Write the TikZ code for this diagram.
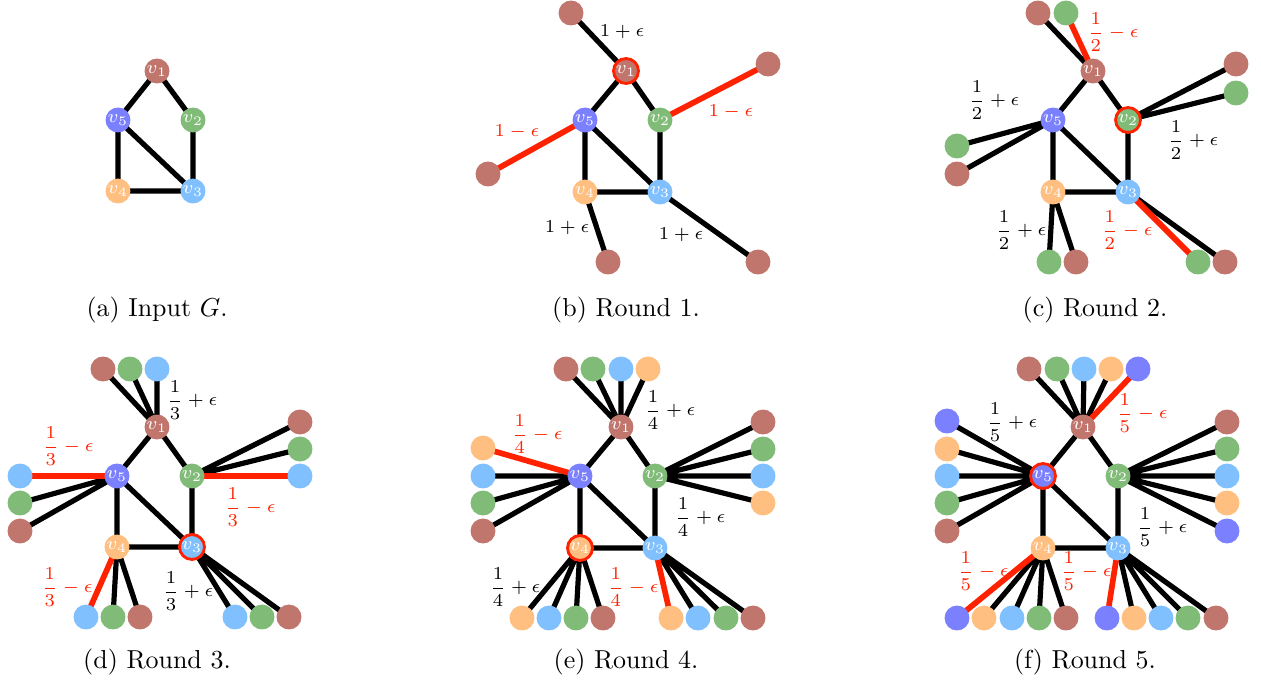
\documentclass[tikz,border=0pt]{standalone}
\usepackage{amsmath}
\usetikzlibrary{backgrounds}
\definecolor{cbrown}{HTML}{C0756D}
\definecolor{cgreen}{HTML}{80BB78}
\definecolor{cblue}{HTML}{80C0FF}
\definecolor{corange}{HTML}{FFBF80}
\definecolor{cpurple}{HTML}{7B80FF}
\definecolor{cred}{HTML}{FF2200}
\tikzset{
  vtx/.style={circle,minimum size=9.6pt,inner sep=0pt,text=white,font=\fontsize{6.8}{8}\selectfont},
  leaf/.style={circle,minimum size=9.6pt,inner sep=0pt},
  ring/.style={draw=cred,line width=1.1pt},
  edge/.style={line width=2pt,draw=black},
  redge/.style={line width=2.2pt,draw=cred},
  lab/.style={font=\fontsize{7}{8.5}\selectfont,inner sep=0pt},
  rlab/.style={lab,text=cred},
  capt/.style={font=\normalsize,inner sep=0pt}
}
\begin{document}
\begin{tikzpicture}[x=0.385pt,y=-0.385pt]
\useasboundingbox (0,0) rectangle (1261,689);
%% ---------- (a)
\node[vtx,fill=cbrown] (a1) at (157,71) {$v_1$};
\node[vtx,fill=cpurple] (a5) at (118,120) {$v_5$};
\node[vtx,fill=cgreen] (a2) at (193,120) {$v_2$};
\node[vtx,fill=corange] (a4) at (118,191) {$v_4$};
\node[vtx,fill=cblue] (a3) at (193,191) {$v_3$};
\begin{pgfonlayer}{background}
\draw[edge] (a1.center)--(a5.center) (a1.center)--(a2.center) (a5.center)--(a4.center)
  (a5.center)--(a3.center) (a2.center)--(a3.center) (a4.center)--(a3.center);
\end{pgfonlayer}
\node[capt] (capa) at (157,310) {(a) Input $G$.};
%% ---------- (b)
\node[vtx,fill=cbrown,ring] (b1) at (626,71) {$v_1$};
\node[vtx,fill=cpurple] (b5) at (585,120) {$v_5$};
\node[vtx,fill=cgreen] (b2) at (660,120) {$v_2$};
\node[vtx,fill=corange] (b4) at (585,192) {$v_4$};
\node[vtx,fill=cblue] (b3) at (660,192) {$v_3$};
\node[leaf,fill=cbrown] (bl1) at (571,13) {};
\node[leaf,fill=cbrown] (bl2) at (768,64) {};
\node[leaf,fill=cbrown] (bl5) at (488,174) {};
\node[leaf,fill=cbrown] (bl4) at (608,262) {};
\node[leaf,fill=cbrown] (bl3) at (758,262) {};
\begin{pgfonlayer}{background}
\draw[edge] (b1.center)--(b5.center) (b1.center)--(b2.center) (b5.center)--(b4.center)
  (b5.center)--(b3.center) (b2.center)--(b3.center) (b4.center)--(b3.center);
\draw[edge] (b1.center)--(bl1.center) (b4.center)--(bl4.center) (b3.center)--(bl3.center);
\draw[redge] (b2.center)--(bl2.center) (b5.center)--(bl5.center);
\end{pgfonlayer}
\node[lab] (bt1) at (622,32) {$1+\epsilon$};
\node[rlab] (bt2) at (731,112) {$1-\epsilon$};
\node[rlab] (bt5) at (517,132) {$1-\epsilon$};
\node[lab] (bt4) at (567,228) {$1+\epsilon$};
\node[lab] (bt3) at (681,235) {$1+\epsilon$};
\node[capt] (capb) at (626,310) {(b) Round 1.};
%% ---------- (c)
\node[vtx,fill=cbrown] (c1) at (1093,71) {$v_1$};
\node[vtx,fill=cpurple] (c5) at (1053,120) {$v_5$};
\node[vtx,fill=cgreen,ring] (c2) at (1128,120) {$v_2$};
\node[vtx,fill=corange] (c4) at (1053,192) {$v_4$};
\node[vtx,fill=cblue] (c3) at (1128,192) {$v_3$};
\node[leaf,fill=cbrown] (cl1a) at (1038,13) {};
\node[leaf,fill=cgreen] (cl1b) at (1066,13) {};
\node[leaf,fill=cbrown] (cl2a) at (1236,64) {};
\node[leaf,fill=cgreen] (cl2b) at (1236,93) {};
\node[leaf,fill=cgreen] (cl5a) at (957,146) {};
\node[leaf,fill=cbrown] (cl5b) at (957,174) {};
\node[leaf,fill=cgreen] (cl4a) at (1049,262) {};
\node[leaf,fill=cbrown] (cl4b) at (1076,262) {};
\node[leaf,fill=cgreen] (cl3a) at (1198,262) {};
\node[leaf,fill=cbrown] (cl3b) at (1225,262) {};
\begin{pgfonlayer}{background}
\draw[edge] (c1.center)--(c5.center) (c1.center)--(c2.center) (c5.center)--(c4.center)
  (c5.center)--(c3.center) (c2.center)--(c3.center) (c4.center)--(c3.center);
\draw[edge] (c1.center)--(cl1a.center) (c2.center)--(cl2a.center) (c2.center)--(cl2b.center)
  (c5.center)--(cl5a.center) (c5.center)--(cl5b.center) (c4.center)--(cl4a.center)
  (c4.center)--(cl4b.center) (c3.center)--(cl3b.center);
\draw[redge] (c1.center)--(cl1b.center) (c3.center)--(cl3a.center);
\end{pgfonlayer}
\node[rlab] (ct1) at (1113,32) {$\dfrac{1}{2}-\epsilon$};
\node[lab] (ct5) at (994,100) {$\dfrac{1}{2}+\epsilon$};
\node[lab] (ct2) at (1193,140) {$\dfrac{1}{2}+\epsilon$};
\node[lab] (ct4) at (1021,230) {$\dfrac{1}{2}+\epsilon$};
\node[rlab] (ct3) at (1127,230) {$\dfrac{1}{2}-\epsilon$};
\node[capt] (capc) at (1095,310) {(c) Round 2.};
%% ---------- (d)
\node[vtx,fill=cbrown] (d1) at (157,427) {$v_1$};
\node[vtx,fill=cpurple] (d5) at (117,476) {$v_5$};
\node[vtx,fill=cgreen] (d2) at (192,476) {$v_2$};
\node[vtx,fill=corange] (d4) at (117,547) {$v_4$};
\node[vtx,fill=cblue,ring] (d3) at (192,547) {$v_3$};
\node[leaf,fill=cbrown] (dl1a) at (103,369) {};
\node[leaf,fill=cgreen] (dl1b) at (130,369) {};
\node[leaf,fill=cblue] (dl1c) at (157,369) {};
\node[leaf,fill=cbrown] (dl2a) at (300,422) {};
\node[leaf,fill=cgreen] (dl2b) at (300,449) {};
\node[leaf,fill=cblue] (dl2c) at (300,476) {};
\node[leaf,fill=cblue] (dl5a) at (20,476) {};
\node[leaf,fill=cgreen] (dl5b) at (20,503) {};
\node[leaf,fill=cbrown] (dl5c) at (20,531) {};
\node[leaf,fill=cblue] (dl4a) at (86,617) {};
\node[leaf,fill=cgreen] (dl4b) at (113,617) {};
\node[leaf,fill=cbrown] (dl4c) at (140,617) {};
\node[leaf,fill=cblue] (dl3a) at (235,617) {};
\node[leaf,fill=cgreen] (dl3b) at (262,617) {};
\node[leaf,fill=cbrown] (dl3c) at (289,617) {};
\begin{pgfonlayer}{background}
\draw[edge] (d1.center)--(d5.center) (d1.center)--(d2.center) (d5.center)--(d4.center)
  (d5.center)--(d3.center) (d2.center)--(d3.center) (d4.center)--(d3.center);
\draw[edge] (d1.center)--(dl1a.center) (d1.center)--(dl1b.center) (d1.center)--(dl1c.center)
  (d2.center)--(dl2a.center) (d2.center)--(dl2b.center)
  (d5.center)--(dl5b.center) (d5.center)--(dl5c.center)
  (d4.center)--(dl4b.center) (d4.center)--(dl4c.center)
  (d3.center)--(dl3a.center) (d3.center)--(dl3b.center) (d3.center)--(dl3c.center);
\draw[redge] (d2.center)--(dl2c.center) (d5.center)--(dl5a.center) (d4.center)--(dl4a.center);
\end{pgfonlayer}
\node[lab] (dt1) at (192,400) {$\dfrac{1}{3}+\epsilon$};
\node[rlab] (dt5) at (68,446) {$\dfrac{1}{3}-\epsilon$};
\node[rlab] (dt2) at (250,507) {$\dfrac{1}{3}-\epsilon$};
\node[rlab] (dt4) at (67,587) {$\dfrac{1}{3}-\epsilon$};
\node[lab] (dt3) at (188,591) {$\dfrac{1}{3}+\epsilon$};
\node[capt] (capd) at (157,662) {(d) Round 3.};
%% ---------- (e)
\node[vtx,fill=cbrown] (e1) at (621,427) {$v_1$};
\node[vtx,fill=cpurple] (e5) at (580,476) {$v_5$};
\node[vtx,fill=cgreen] (e2) at (655,476) {$v_2$};
\node[vtx,fill=corange,ring] (e4) at (580,548) {$v_4$};
\node[vtx,fill=cblue] (e3) at (655,548) {$v_3$};
\node[leaf,fill=cbrown] (el1a) at (566,369) {};
\node[leaf,fill=cgreen] (el1b) at (593,369) {};
\node[leaf,fill=cblue] (el1c) at (621,369) {};
\node[leaf,fill=corange] (el1d) at (648,369) {};
\node[leaf,fill=cbrown] (el2a) at (763,422) {};
\node[leaf,fill=cgreen] (el2b) at (763,449) {};
\node[leaf,fill=cblue] (el2c) at (763,476) {};
\node[leaf,fill=corange] (el2d) at (763,503) {};
\node[leaf,fill=corange] (el5a) at (483,448) {};
\node[leaf,fill=cblue] (el5b) at (483,476) {};
\node[leaf,fill=cgreen] (el5c) at (483,503) {};
\node[leaf,fill=cbrown] (el5d) at (483,531) {};
\node[leaf,fill=corange] (el4a) at (522,618) {};
\node[leaf,fill=cblue] (el4b) at (549,618) {};
\node[leaf,fill=cgreen] (el4c) at (576,618) {};
\node[leaf,fill=cbrown] (el4d) at (603,618) {};
\node[leaf,fill=corange] (el3a) at (671,618) {};
\node[leaf,fill=cblue] (el3b) at (698,618) {};
\node[leaf,fill=cgreen] (el3c) at (726,618) {};
\node[leaf,fill=cbrown] (el3d) at (753,618) {};
\begin{pgfonlayer}{background}
\draw[edge] (e1.center)--(e5.center) (e1.center)--(e2.center) (e5.center)--(e4.center)
  (e5.center)--(e3.center) (e2.center)--(e3.center) (e4.center)--(e3.center);
\draw[edge] (e1.center)--(el1a.center) (e1.center)--(el1b.center) (e1.center)--(el1c.center) (e1.center)--(el1d.center)
  (e2.center)--(el2a.center) (e2.center)--(el2b.center) (e2.center)--(el2c.center) (e2.center)--(el2d.center)
  (e5.center)--(el5b.center) (e5.center)--(el5c.center) (e5.center)--(el5d.center)
  (e4.center)--(el4a.center) (e4.center)--(el4b.center) (e4.center)--(el4c.center) (e4.center)--(el4d.center)
  (e3.center)--(el3b.center) (e3.center)--(el3c.center) (e3.center)--(el3d.center);
\draw[redge] (e5.center)--(el5a.center) (e3.center)--(el3a.center);
\end{pgfonlayer}
\node[lab] (et1) at (670,410) {$\dfrac{1}{4}+\epsilon$};
\node[rlab] (et5) at (537,434) {$\dfrac{1}{4}-\epsilon$};
\node[lab] (et2) at (700,517) {$\dfrac{1}{4}+\epsilon$};
\node[lab] (et4) at (515,587) {$\dfrac{1}{4}+\epsilon$};
\node[rlab] (et3) at (633,587) {$\dfrac{1}{4}-\epsilon$};
\node[capt] (cape) at (626,662) {(e) Round 4.};
%% ---------- (f)
\node[vtx,fill=cbrown] (f1) at (1083,427) {$v_1$};
\node[vtx,fill=cpurple,ring] (f5) at (1043,476) {$v_5$};
\node[vtx,fill=cgreen] (f2) at (1118,476) {$v_2$};
\node[vtx,fill=corange] (f4) at (1043,548) {$v_4$};
\node[vtx,fill=cblue] (f3) at (1118,548) {$v_3$};
\node[leaf,fill=cbrown] (fl1a) at (1029,369) {};
\node[leaf,fill=cgreen] (fl1b) at (1057,369) {};
\node[leaf,fill=cblue] (fl1c) at (1084,369) {};
\node[leaf,fill=corange] (fl1d) at (1111,369) {};
\node[leaf,fill=cpurple] (fl1e) at (1138,369) {};
\node[leaf,fill=cbrown] (fl2a) at (1227,422) {};
\node[leaf,fill=cgreen] (fl2b) at (1227,449) {};
\node[leaf,fill=cblue] (fl2c) at (1227,476) {};
\node[leaf,fill=corange] (fl2d) at (1227,503) {};
\node[leaf,fill=cpurple] (fl2e) at (1227,531) {};
\node[leaf,fill=cpurple] (fl5a) at (947,421) {};
\node[leaf,fill=corange] (fl5b) at (947,449) {};
\node[leaf,fill=cblue] (fl5c) at (947,476) {};
\node[leaf,fill=cgreen] (fl5d) at (947,503) {};
\node[leaf,fill=cbrown] (fl5e) at (947,531) {};
\node[leaf,fill=cpurple] (fl4a) at (957,618) {};
\node[leaf,fill=corange] (fl4b) at (984,618) {};
\node[leaf,fill=cblue] (fl4c) at (1012,618) {};
\node[leaf,fill=cgreen] (fl4d) at (1039,618) {};
\node[leaf,fill=cbrown] (fl4e) at (1066,618) {};
\node[leaf,fill=cpurple] (fl3a) at (1107,618) {};
\node[leaf,fill=corange] (fl3b) at (1134,618) {};
\node[leaf,fill=cblue] (fl3c) at (1161,618) {};
\node[leaf,fill=cgreen] (fl3d) at (1188,618) {};
\node[leaf,fill=cbrown] (fl3e) at (1216,618) {};
\begin{pgfonlayer}{background}
\draw[edge] (f1.center)--(f5.center) (f1.center)--(f2.center) (f5.center)--(f4.center)
  (f5.center)--(f3.center) (f2.center)--(f3.center) (f4.center)--(f3.center);
\draw[edge] (f1.center)--(fl1a.center) (f1.center)--(fl1b.center) (f1.center)--(fl1c.center) (f1.center)--(fl1d.center)
  (f2.center)--(fl2a.center) (f2.center)--(fl2b.center) (f2.center)--(fl2c.center) (f2.center)--(fl2d.center) (f2.center)--(fl2e.center)
  (f5.center)--(fl5a.center) (f5.center)--(fl5b.center) (f5.center)--(fl5c.center) (f5.center)--(fl5d.center) (f5.center)--(fl5e.center)
  (f4.center)--(fl4b.center) (f4.center)--(fl4c.center) (f4.center)--(fl4d.center) (f4.center)--(fl4e.center)
  (f3.center)--(fl3b.center) (f3.center)--(fl3c.center) (f3.center)--(fl3d.center) (f3.center)--(fl3e.center);
\draw[redge] (f1.center)--(fl1e.center) (f4.center)--(fl4a.center) (f3.center)--(fl3a.center);
\end{pgfonlayer}
\node[lab] (ft5) at (1012,422) {$\dfrac{1}{5}+\epsilon$};
\node[rlab] (ft1) at (1142,413) {$\dfrac{1}{5}-\epsilon$};
\node[lab] (ft2) at (1162,527) {$\dfrac{1}{5}+\epsilon$};
\node[rlab] (ft4) at (983,571) {$\dfrac{1}{5}-\epsilon$};
\node[rlab] (ft3) at (1086,571) {$\dfrac{1}{5}-\epsilon$};
\node[capt] (capf) at (1085,662) {(f) Round 5.};
\end{tikzpicture}
\end{document}
